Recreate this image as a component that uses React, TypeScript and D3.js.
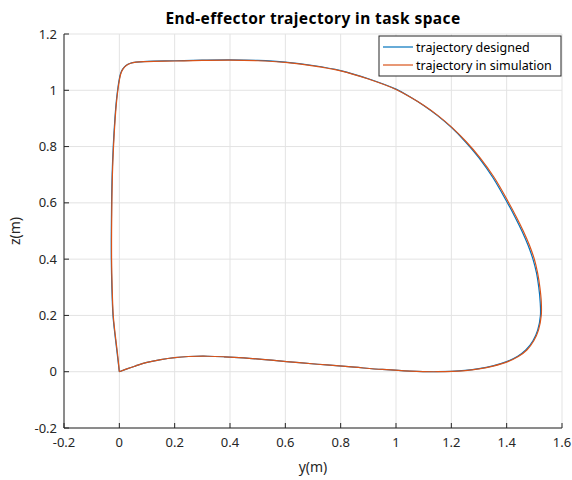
import React from "react";
import * as d3 from "d3";

// End-effector path in the y-z plane, metres.
const designedY = [
  0, -0.006, -0.012, -0.018, -0.023, -0.027, -0.029, -0.029, -0.028, -0.026, -0.022, -0.016, -0.01,
  -0.005, -0.001, 0.004, 0.012, 0.024, 0.04, 0.06, 0.1, 0.2, 0.3, 0.4, 0.5, 0.6, 0.7, 0.8, 0.9, 1.0,
  1.05, 1.1, 1.15, 1.2, 1.25, 1.3, 1.35, 1.4, 1.43, 1.455, 1.477, 1.495, 1.508, 1.516, 1.521, 1.522,
  1.512, 1.495, 1.47, 1.44, 1.4, 1.35, 1.3, 1.25, 1.15, 1.05, 0.95, 0.85, 0.75, 0.65, 0.55, 0.45,
  0.38, 0.32, 0.25, 0.2, 0.15, 0.1, 0.06, 0.03, 0,
];
const designedZ = [
  0, 0.05, 0.1, 0.15, 0.2, 0.3, 0.4, 0.5, 0.6, 0.7, 0.8, 0.9, 0.97, 1.01, 1.035, 1.058, 1.075, 1.088,
  1.096, 1.1, 1.103, 1.105, 1.107, 1.108, 1.106, 1.1, 1.088, 1.07, 1.041, 1.004, 0.977, 0.946, 0.91,
  0.868, 0.818, 0.76, 0.69, 0.605, 0.55, 0.5, 0.45, 0.4, 0.35, 0.3, 0.25, 0.2, 0.148, 0.11, 0.078,
  0.055, 0.036, 0.021, 0.011, 0.005, 0.0, 0.002, 0.008, 0.016, 0.024, 0.032, 0.041, 0.049, 0.053,
  0.055, 0.054, 0.05, 0.043, 0.033, 0.021, 0.011, 0,
];
const simulatedY = [
  0, -0.005, -0.011, -0.017, -0.022, -0.026, -0.028, -0.028, -0.027, -0.025, -0.021, -0.015, -0.009,
  -0.004, 0, 0.005, 0.013, 0.025, 0.041, 0.061, 0.1, 0.2, 0.3, 0.4, 0.5, 0.6, 0.7, 0.8, 0.9, 1.0,
  1.051, 1.101, 1.152, 1.202, 1.253, 1.304, 1.355, 1.405, 1.435, 1.46, 1.482, 1.5, 1.512, 1.52, 1.525,
  1.525, 1.515, 1.498, 1.473, 1.442, 1.402, 1.351, 1.3, 1.25, 1.15, 1.05, 0.95, 0.85, 0.75, 0.65,
  0.55, 0.45, 0.38, 0.32, 0.25, 0.2, 0.15, 0.1, 0.06, 0.03, 0,
];
const simulatedZ = [
  0, 0.05, 0.1, 0.15, 0.2, 0.3, 0.4, 0.5, 0.6, 0.7, 0.8, 0.9, 0.97, 1.01, 1.035, 1.058, 1.075, 1.088,
  1.096, 1.1, 1.102, 1.104, 1.106, 1.107, 1.105, 1.099, 1.087, 1.069, 1.04, 1.003, 0.976, 0.946, 0.91,
  0.868, 0.818, 0.76, 0.69, 0.605, 0.55, 0.5, 0.45, 0.4, 0.35, 0.3, 0.25, 0.2, 0.148, 0.11, 0.077,
  0.054, 0.035, 0.02, 0.01, 0.004, 0.0, 0.002, 0.008, 0.016, 0.024, 0.032, 0.041, 0.049, 0.053,
  0.055, 0.054, 0.05, 0.043, 0.033, 0.021, 0.011, 0,
];

const xTicks = [-0.2, 0, 0.2, 0.4, 0.6, 0.8, 1, 1.2, 1.4, 1.6];
const yTicks = [-0.2, 0, 0.2, 0.4, 0.6, 0.8, 1, 1.2];
const seriesNames = ["trajectory designed", "trajectory in simulation"];
const seriesColors = ["#0072BD", "#D95319"];

const W = 572;
const H = 480;
const M = { left: 64, right: 10, top: 34, bottom: 52 };
const FONT = "'Noto Sans', 'Open Sans', sans-serif";
const INK = "#262626";

export default function App() {
  const x = d3.scaleLinear().domain([-0.2, 1.6]).range([M.left, W - M.right]);
  const y = d3.scaleLinear().domain([-0.2, 1.2]).range([H - M.bottom, M.top]);
  const line = d3
    .line<[number, number]>()
    .x((d) => x(d[0]))
    .y((d) => y(d[1]))
    .curve(d3.curveCatmullRom.alpha(0.5));

  const series = [
    designedY.map((v, i) => [v, designedZ[i]] as [number, number]),
    simulatedY.map((v, i) => [v, simulatedZ[i]] as [number, number]),
  ];

  const x0 = x(-0.2);
  const x1 = x(1.6);
  const y0 = y(-0.2);
  const y1 = y(1.2);
  const fmt = (v: number) => String(v);

  const lx = 379;
  const ly = 36;
  const lw = 182;
  const lh = 40;

  return (
    <svg
      width={W}
      height={H}
      style={{ position: "absolute", left: 0, top: 0, background: "#fff" }}
      fontFamily={FONT}
    >
      <rect x={0} y={0} width={W} height={H} fill="#fff" />
      {/* grid */}
      <g stroke="#e3e3e3" strokeWidth={1}>
        {xTicks.map((t) => (
          <line key={"gx" + t} x1={x(t)} x2={x(t)} y1={y0} y2={y1} />
        ))}
        {yTicks.map((t) => (
          <line key={"gy" + t} x1={x0} x2={x1} y1={y(t)} y2={y(t)} />
        ))}
      </g>

      {/* trajectories */}
      {series.map((pts, i) => (
        <path
          key={i}
          d={line(pts) || ""}
          fill="none"
          stroke={seriesColors[i]}
          strokeWidth={1.2}
          strokeLinejoin="round"
        />
      ))}

      {/* axes */}
      <g stroke={INK} strokeWidth={1} fill="none">
        <line x1={x0} x2={x1} y1={y0} y2={y0} />
        <line x1={x0} x2={x0} y1={y0} y2={y1} />
        {xTicks.map((t) => (
          <line key={"tx" + t} x1={x(t)} x2={x(t)} y1={y0} y2={y0 - 5} />
        ))}
        {yTicks.map((t) => (
          <line key={"ty" + t} x1={x0} x2={x0 + 5} y1={y(t)} y2={y(t)} />
        ))}
      </g>
      <g fill={INK} fontSize={13}>
        {xTicks.map((t) => (
          <text key={"lx" + t} x={x(t)} y={y0 + 19} textAnchor="middle">
            {fmt(t)}
          </text>
        ))}
        {yTicks.map((t) => (
          <text key={"ly" + t} x={x0 - 7} y={y(t) + 4.5} textAnchor="end">
            {fmt(t)}
          </text>
        ))}
      </g>
      <text x={(x0 + x1) / 2} y={472} textAnchor="middle" fontSize={14} fill={INK}>
        y(m)
      </text>
      <text
        transform={`translate(20,${(y0 + y1) / 2}) rotate(-90)`}
        textAnchor="middle"
        fontSize={14}
        fill={INK}
      >
        z(m)
      </text>
      <text
        x={(x0 + x1) / 2}
        y={24}
        textAnchor="middle"
        fontSize={15.5}
        fontWeight="bold"
        letterSpacing={0.4}
        fill="#000"
      >
        End-effector trajectory in task space
      </text>

      {/* legend */}
      <rect x={lx} y={ly} width={lw} height={lh} fill="#fff" stroke={INK} strokeWidth={1} />
      {seriesNames.map((name, i) => (
        <g key={name}>
          <line
            x1={lx + 4}
            x2={lx + 34}
            y1={ly + 11 + i * 18}
            y2={ly + 11 + i * 18}
            stroke={seriesColors[i]}
            strokeWidth={1.2}
          />
          <text x={lx + 37} y={ly + 15.5 + i * 18} fontSize={12.5} fill="#000">
            {name}
          </text>
        </g>
      ))}
    </svg>
  );
}
